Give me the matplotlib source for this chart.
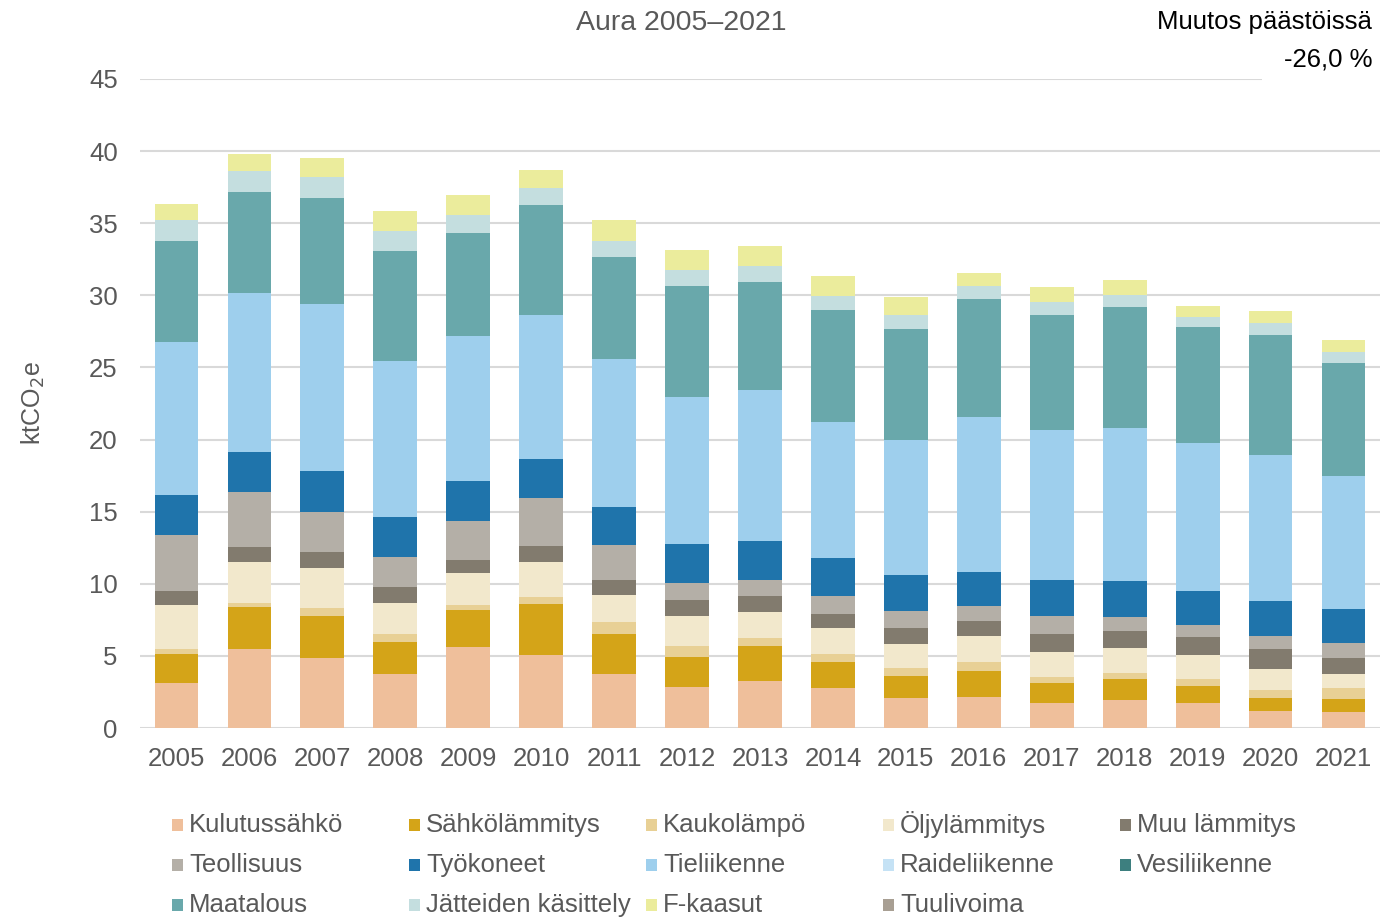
import matplotlib
matplotlib.use("Agg")
import matplotlib.pyplot as plt
from matplotlib.patches import Rectangle
import numpy as np

plt.rcParams['font.family'] = ['Liberation Sans', 'DejaVu Sans']

years = [str(y) for y in range(2005, 2022)]

categories = ["Kulutussähkö", "Sähkölämmitys", "Kaukolämpö", "Öljylämmitys", "Muu lämmitys",
              "Teollisuus", "Työkoneet", "Tieliikenne", "Raideliikenne", "Vesiliikenne",
              "Maatalous", "Jätteiden käsittely", "F-kaasut", "Tuulivoima"]

kulutussahko   = [3.11, 5.51, 4.84, 3.72, 5.64, 5.05, 3.72, 2.85, 3.29, 2.74, 2.09, 2.18, 1.72, 1.95, 1.72, 1.21, 1.09]
sahkolammitys  = [2.00, 2.87, 2.95, 2.26, 2.52, 3.54, 2.77, 2.07, 2.39, 1.83, 1.53, 1.74, 1.39, 1.44, 1.22, 0.88, 0.93]
kaukolampo     = [0.34, 0.26, 0.53, 0.51, 0.35, 0.51, 0.88, 0.77, 0.58, 0.53, 0.55, 0.65, 0.46, 0.44, 0.47, 0.55, 0.74]
oljylammitys   = [3.06, 2.88, 2.77, 2.15, 2.23, 2.42, 1.86, 2.10, 1.81, 1.83, 1.67, 1.78, 1.69, 1.73, 1.64, 1.44, 1.00]
muu_lammitys   = [0.98, 1.03, 1.09, 1.12, 0.94, 1.09, 1.01, 1.07, 1.09, 1.00, 1.12, 1.09, 1.28, 1.16, 1.26, 1.41, 1.11]
teollisuus     = [3.89, 3.81, 2.79, 2.08, 2.66, 3.32, 2.45, 1.17, 1.13, 1.25, 1.13, 1.00, 1.25, 0.98, 0.81, 0.91, 1.02]
tyokoneet      = [2.76, 2.76, 2.85, 2.81, 2.79, 2.69, 2.60, 2.74, 2.69, 2.58, 2.53, 2.36, 2.46, 2.48, 2.41, 2.43, 2.34]
tieliikenne    = [10.64, 11.07, 11.57, 10.83, 10.02, 10.05, 10.30, 10.16, 10.44, 9.43, 9.37, 10.76, 10.43, 10.62, 10.22, 10.07, 9.21]
raideliikenne  = [0.0] * 17
vesiliikenne   = [0.0] * 17
maatalous      = [7.02, 6.99, 7.37, 7.61, 7.16, 7.58, 7.04, 7.71, 7.51, 7.79, 7.69, 8.16, 7.93, 8.41, 8.03, 8.37, 7.88]
jatteet        = [1.41, 1.44, 1.43, 1.35, 1.28, 1.22, 1.15, 1.12, 1.07, 0.98, 0.93, 0.93, 0.93, 0.84, 0.74, 0.83, 0.74]
f_kaasut       = [1.15, 1.19, 1.30, 1.41, 1.38, 1.23, 1.41, 1.40, 1.39, 1.39, 1.30, 0.93, 1.02, 1.02, 0.74, 0.81, 0.81]
tuulivoima     = [0.0] * 17

series = [kulutussahko, sahkolammitys, kaukolampo, oljylammitys, muu_lammitys, teollisuus,
          tyokoneet, tieliikenne, raideliikenne, vesiliikenne, maatalous, jatteet, f_kaasut, tuulivoima]

colors = ["#EFBF9B", "#D4A418", "#E8D095", "#F2E8CC", "#827B6E", "#B4AFA7",
          "#1F74AB", "#9ECFED", "#C5E2F5", "#3D7F7F", "#69A8AB", "#C4DEDF", "#EBEC9C", "#A89F93"]

yticks = [0, 5, 10, 15, 20, 25, 30, 35, 40, 45]

fig = plt.figure(figsize=(13.8, 9.18), dpi=100)
ax = fig.add_axes([140/1380, 1 - 728/918, 1240/1380, (728 - 79)/918])

x = np.arange(len(years))
bottom = np.zeros(len(years))
for vals, col, name in zip(series, colors, categories):
    v = np.array(vals)
    ax.bar(x, v, width=0.6, bottom=bottom, color=col, linewidth=0, label=name, zorder=3)
    bottom += v

ax.set_xlim(-0.5, len(years) - 0.5)
ax.set_ylim(0, 45)
ax.set_yticks(yticks)
ax.set_yticklabels([str(t) for t in yticks])
ax.set_xticks(x)
ax.set_xticklabels(years)
ax.tick_params(axis='both', length=0, labelsize=18.5, labelcolor="#595959")
ax.tick_params(axis='x', pad=14)
ax.tick_params(axis='y', pad=16)
ax.grid(axis='y', color="#D9D9D9", linewidth=1.5, zorder=0)
for s in ax.spines.values():
    s.set_visible(False)

ax.set_ylabel("ktCO$_2$e", fontsize=18, color="#595959", labelpad=30)

fig.text(681/1380, 1 - 23/918, "Aura 2005–2021", ha="center", va="center", fontsize=20.5, color="#595959")
fig.text(1372/1380, 1 - 22/918, "Muutos päästöissä", ha="right", va="center", fontsize=18.5, color="#000000")
fig.text(1372/1380, 1 - 60/918, "-26,0 %", ha="right", va="center", fontsize=18.5, color="#000000", zorder=10)
fig.add_artist(Rectangle((1262/1380, 1 - 92/918), 118/1380, 30/918, transform=fig.transFigure,
                         facecolor="white", edgecolor="none", zorder=9))

# legend laid out row-wise as in the reference
col_x = [172, 409, 646, 883, 1120]
row_y = [825, 865, 905]
for i, (name, col) in enumerate(zip(categories, colors)):
    r, c = divmod(i, 5)
    xs, ys = col_x[c], row_y[r]
    fig.add_artist(Rectangle((xs/1380, 1 - (ys + 6)/918), 11/1380, 12/918, transform=fig.transFigure,
                             facecolor=col, edgecolor="none"))
    fig.text((xs + 17)/1380, 1 - ys/918, name, ha="left", va="center", fontsize=18.5, color="#595959")

fig.savefig("out.png", dpi=100)
